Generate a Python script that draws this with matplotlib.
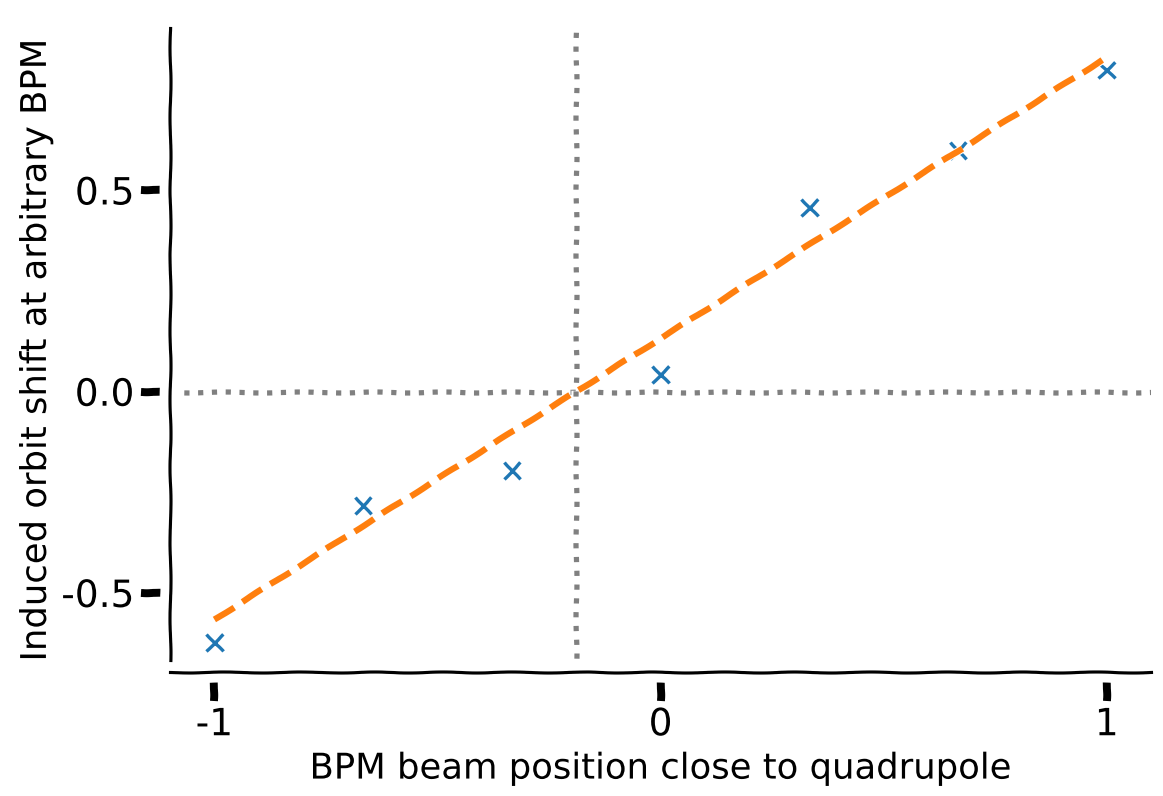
import matplotlib
matplotlib.use("Agg")
import matplotlib.pyplot as plt
import matplotlib.patheffects as pe

# BPM positions (close to quadrupole) and measured induced shift
bpm_pos = [-1.0, -2/3, -1/3, 0.0, 1/3, 2/3, 1.0]
orbit_shift = [-0.623, -0.283, -0.196, 0.042, 0.457, 0.600, 0.799]

# fitted line (end points)
fit_x = [-1.0, 1.0]
fit_y = [-0.566, 0.831]
zero_cross = -0.19

xticks = [-1, 0, 1]
yticks = [-0.5, 0.0, 0.5]

plt.xkcd(scale=0.5, length=80, randomness=2)
plt.rcParams['font.family'] = ['DejaVu Sans']

fig = plt.figure(figsize=(1163/150, 796/150), dpi=150)
ax = fig.add_axes([0.146, 0.156, 0.844, 0.809])

ax.axhline(0, color='gray', linestyle=':', lw=2.5)
ax.axvline(zero_cross, color='gray', linestyle=':', lw=2.5)
ax.plot(bpm_pos, orbit_shift, 'x', color='tab:blue', markersize=8, mew=1.6)
ax.plot(fit_x, fit_y, '--', color='tab:orange', lw=3)

ax.set_xlim(-1.1, 1.1)
ax.set_ylim(-0.696, 0.904)
ax.set_xticks(xticks)
ax.set_yticks(yticks)
ax.set_xticklabels(['-1', '0', '1'])
ax.set_yticklabels(['-0.5', '0.0', '0.5'])
ax.tick_params(length=14, width=3.8, labelsize=18, pad=3)
for side in ['top', 'right']:
    ax.spines[side].set_visible(False)
for side in ['left', 'bottom']:
    ax.spines[side].set_path_effects([pe.withStroke(linewidth=10, foreground='w')])

ax.set_xlabel('BPM beam position close to quadrupole', fontsize=17)
ax.set_ylabel('Induced orbit shift at arbitrary BPM', fontsize=17)

fig.savefig('out.png', dpi=150)
